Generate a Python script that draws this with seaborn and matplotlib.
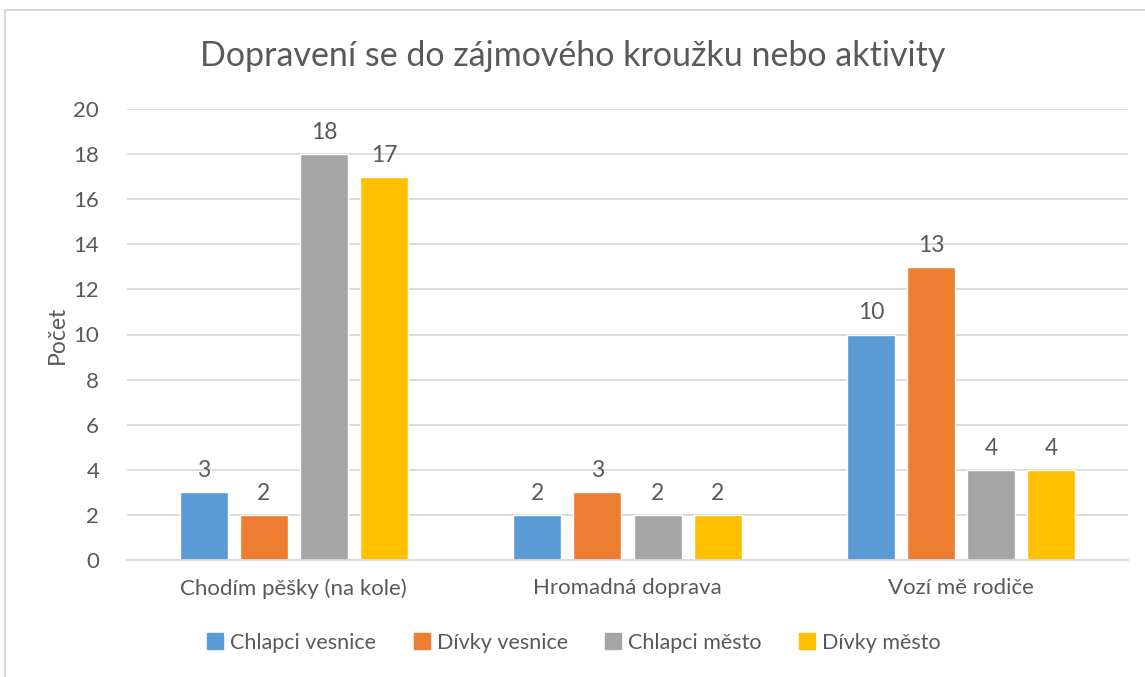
import pandas as pd
import matplotlib
matplotlib.use("Agg")
import matplotlib.pyplot as plt
from matplotlib.lines import Line2D
import seaborn as sns

# Data
categories = ["Chodím pěšky (na kole)", "Hromadná doprava", "Vozí mě rodiče"]
groups = ["Chlapci vesnice", "Dívky vesnice", "Chlapci město", "Dívky město"]
chlapci_vesnice = [3, 2, 10]
divky_vesnice = [2, 3, 13]
chlapci_mesto = [18, 2, 4]
divky_mesto = [17, 2, 4]
colors = ["#5B9BD5", "#ED7D31", "#A5A5A5", "#FFC000"]

series = [chlapci_vesnice, divky_vesnice, chlapci_mesto, divky_mesto]
rows = []
for g, vals in zip(groups, series):
    for c, v in zip(categories, vals):
        rows.append({"Kategorie": c, "Skupina": g, "Počet": v})
df = pd.DataFrame(rows)

sns.set_theme(style="white")
plt.rcParams['font.family'] = ['Lato', 'DejaVu Sans']
text_col = "#595959"
grid_col = "#D9D9D9"

fig = plt.figure(figsize=(11.45, 6.77), dpi=100)
ax = fig.add_axes([127 / 1145, 1 - 560 / 677, (1128 - 127) / 1145, (560 - 109) / 677])

sns.barplot(data=df, x="Kategorie", y="Počet", hue="Skupina", hue_order=groups,
            order=categories, palette=colors, width=0.72, gap=0.2,
            saturation=1, ax=ax, legend=False)

for cont in ax.containers:
    ax.bar_label(cont, padding=8, fontsize=16.5, color=text_col)

ax.set_xlim(-0.5, 2.5)
ax.set_ylim(0, 20)
ax.set_yticks(range(0, 21, 2))
ax.yaxis.grid(True, color=grid_col, linewidth=1.3)
ax.set_axisbelow(True)
for s in ["top", "right", "left"]:
    ax.spines[s].set_visible(False)
ax.spines["bottom"].set_color(grid_col)
ax.spines["bottom"].set_linewidth(1.3)
ax.tick_params(axis="both", length=0, labelsize=16, colors=text_col)
ax.tick_params(axis="x", pad=13)
ax.tick_params(axis="y", pad=20)
ax.set_xlabel("")
ax.set_ylabel("Počet", fontsize=16.5, color=text_col, labelpad=4)

fig.text(0.5, 1 - 56 / 677, "Dopravení se do zájmového kroužku nebo aktivity",
         ha="center", va="center", fontsize=24.5, color=text_col)

handles = [Line2D([], [], marker="s", linestyle="", markersize=11,
                  markerfacecolor=c, markeredgecolor=c) for c in colors]
fig.legend(handles, groups, loc="center", bbox_to_anchor=(0.5, 1 - 643 / 677),
           ncol=4, frameon=False, fontsize=15.5, labelcolor=text_col,
           handletextpad=0.2, columnspacing=1.6, handlelength=1.0)

# chart frame (left and top edges visible)
fig.add_artist(Line2D([5 / 1145, 5 / 1145], [0, 1 - 10 / 677],
                      transform=fig.transFigure, color=grid_col, linewidth=1.5))
fig.add_artist(Line2D([5 / 1145, 1], [1 - 10 / 677, 1 - 10 / 677],
                      transform=fig.transFigure, color=grid_col, linewidth=1.5))

fig.savefig("out.png", dpi=100)
